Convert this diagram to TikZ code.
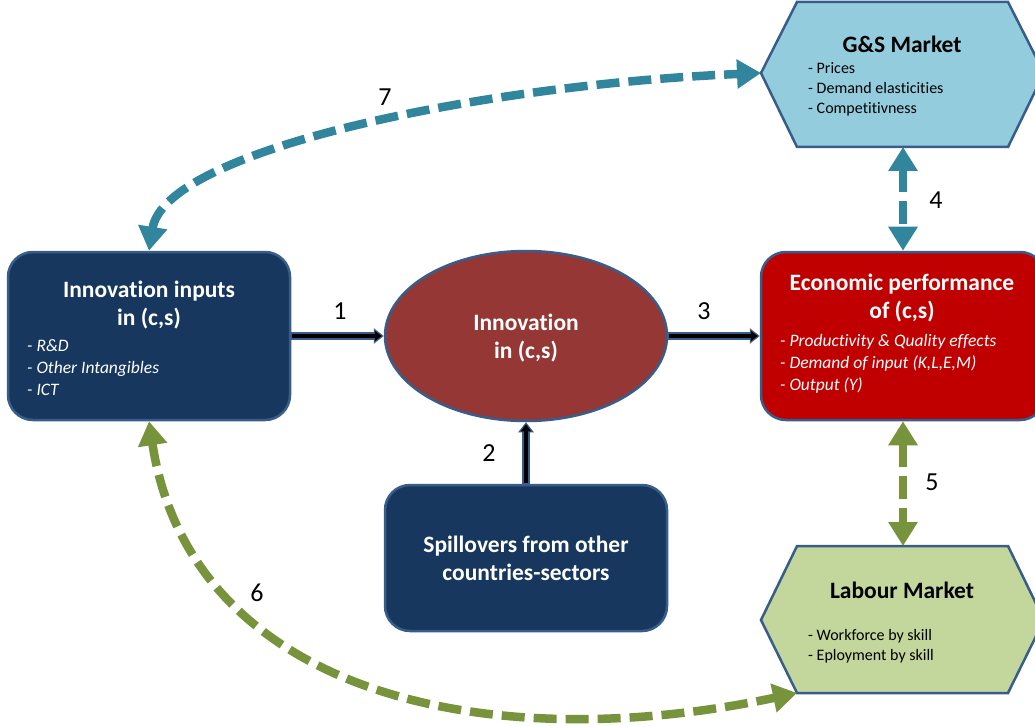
\documentclass[tikz,border=0pt]{standalone}
\usepackage{fontspec}
\setmainfont{Carlito}[Ligatures=NoCommon]
\usetikzlibrary{arrows.meta,calc,shapes.geometric}
\definecolor{navy}{HTML}{17375E}
\definecolor{bord}{HTML}{385D8A}
\definecolor{innovred}{HTML}{953735}
\definecolor{econred}{HTML}{C00000}
\definecolor{gsblue}{HTML}{93CDDD}
\definecolor{labgreen}{HTML}{C3D69B}
\definecolor{tealc}{HTML}{31859C}
\definecolor{greenc}{HTML}{77933C}
\newcommand\twoline[2]{\vtop{\halign{\hfil##\hfil\cr#1\cr#2\cr}}}
\begin{document}
\begin{tikzpicture}[x=1pt,y=-1pt,
  rbox/.style={draw=bord, line width=2.5pt, rounded corners=25pt, inner sep=0pt},
  hexa/.style={draw=bord, line width=2.5pt, line join=miter},
  ttl/.style={font=\bfseries\fontsize{23.5}{28}\selectfont, anchor=base, inner sep=0pt},
  bul/.style={font=\itshape\fontsize{17.5}{22}\selectfont, text=white, anchor=base west, inner sep=0pt},
  mbul/.style={font=\fontsize{16}{20}\selectfont, anchor=base west, inner sep=0pt},
  num/.style={font=\fontsize{26}{30}\selectfont, inner sep=0pt},
  solidarrow/.style={line width=7.5pt, draw=bord, -{Triangle[length=10pt,width=15pt]}},
  solidcore/.style={line width=4.5pt, draw=black, -{Triangle[length=7pt,width=10pt]}, shorten >=2pt, shorten <=1pt},
  dasharrow/.style={line width=8.5pt, dash pattern=on 23pt off 9pt,
    {Triangle[length=24pt,width=28pt]}-{Triangle[length=24pt,width=28pt]}}
]
\useasboundingbox (0,0) rectangle (1035,727);

% G&S market hexagon
\draw[hexa, fill=gsblue] (761,73) -- (797,2) -- (1008,2) -- (1044,73) -- (1008,147) -- (797,147) -- cycle;
\coordinate (gsL) at (761,73);
\coordinate (gsB) at (903,147);
\node[ttl] (gsT) at (902,53) {G\&S Market};
\node[mbul] (gsBul) at (808,74) {\vtop{\hbox{- Prices}\hbox{- Demand elasticities}\hbox{- Competitivness}}};

% Labour market hexagon
\draw[hexa, fill=labgreen] (761,620) -- (797,546) -- (1008,546) -- (1044,620) -- (1008,693) -- (797,693) -- cycle;
\coordinate (lmT) at (903,546);
\coordinate (lmBL) at (797,693);
\node[ttl] (lmTt) at (902,598) {Labour Market};
\node[mbul] (lmBul) at (808,640) {\vtop{\hbox{- Workforce by skill}\hbox{- Eployment by skill}}};

% Innovation inputs
\node[rbox, fill=navy, minimum width=282pt, minimum height=168pt] (inp) at (149,336) {};
\node[ttl, text=white] (inpT) at (149,297) {\twoline{Innovation inputs}{in (c,s)}};
\node[bul] (inpB) at (27,351) {\vtop{\hbox{- R\&D}\hbox{- Other Intangibles}\hbox{- ICT}}};

% Innovation ellipse
\node[draw=bord, line width=2.5pt, fill=innovred, ellipse, minimum width=282pt, minimum height=170pt, inner sep=0pt] (innov) at (526,336) {};
\node[ttl, text=white] (innovT) at (526,330) {\twoline{Innovation}{in (c,s)}};

% Spillovers
\node[rbox, fill=navy, minimum width=282pt, minimum height=146pt] (spill) at (526,558) {};
\node[ttl, text=white] (spillT) at (526,552) {\twoline{Spillovers from other}{countries-sectors}};

% Economic performance
\node[rbox, fill=econred, minimum width=284pt, minimum height=168pt] (econ) at (903,336) {};
\node[ttl, text=white] (econT) at (902,290) {\twoline{Economic performance}{of (c,s)}};
\node[bul] (econB) at (780,346) {\vtop{\hbox{- Productivity \& Quality effects}\hbox{- Demand of input (K,L,E,M)}\hbox{- Output (Y)}}};

% solid arrows
\draw[solidarrow] (inp.east) -- (innov.west);
\draw[solidcore] (inp.east) -- (innov.west);
\draw[solidarrow] (innov.east) -- (econ.west);
\draw[solidcore] (innov.east) -- (econ.west);
\draw[solidarrow] (spill.north) -- (innov.south);
\draw[solidcore] (spill.north) -- (innov.south);

% dashed arrows
\draw[dasharrow, tealc] (gsB) -- (econ.north);
\draw[dasharrow, greenc] (econ.south) -- (lmT);
\draw[dasharrow, tealc] (inp.north) .. controls (165,150) and (480,85) .. (gsL);
\draw[dasharrow, greenc] (inp.south) .. controls (190,690) and (480,760) .. (lmBL);

% labels
\node[num] (n1) at (340,311) {1};
\node[num] (n2) at (489,453) {2};
\node[num] (n3) at (704,311) {3};
\node[num] (n4) at (936,200) {4};
\node[num] (n5) at (932,482) {5};
\node[num] (n6) at (257,593) {6};
\node[num] (n7) at (385,97) {7};
\end{tikzpicture}
\end{document}
